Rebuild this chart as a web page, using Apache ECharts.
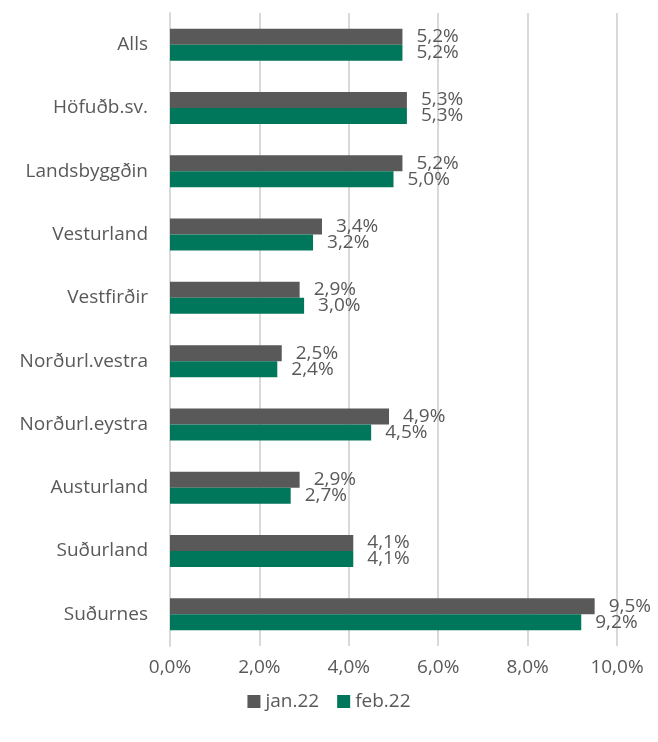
<!DOCTYPE html>
<html>
<head>
<meta charset="utf-8">
<script src="https://cdn.jsdelivr.net/npm/echarts@6/dist/echarts.min.js"></script>
<style>
  html, body { margin: 0; padding: 0; background: #fff; }
  #chart { width: 658px; height: 742px; }
</style>
</head>
<body>
<div id="chart"></div>
<script>
const regions = ['Alls', 'Höfuðb.sv.', 'Landsbyggðin', 'Vesturland', 'Vestfirðir',
  'Norðurl.vestra', 'Norðurl.eystra', 'Austurland', 'Suðurland', 'Suðurnes']
const jan22 = [5.2, 5.3, 5.2, 3.4, 2.9, 2.5, 4.9, 2.9, 4.1, 9.5]
const feb22 = [5.2, 5.3, 5.0, 3.2, 3.0, 2.4, 4.5, 2.7, 4.1, 9.2]
const seriesNames = ['jan.22', 'feb.22']

const font = 'Open Sans'
const grey = '#595959'
const pct = v => v.toFixed(1).replace('.', ',') + '%'

const chart = echarts.init(document.getElementById('chart'))

const makeSeries = (name, data, color) => ({
  name: name,
  type: 'bar',
  data: data,
  barWidth: 16,
  barGap: '0%',
  itemStyle: { color: color },
  label: {
    show: true,
    position: 'right',
    distance: 14,
    color: grey,
    fontFamily: font,
    fontSize: 19,
    formatter: p => pct(p.value)
  }
})

chart.setOption({
  animation: false,
  textStyle: { fontFamily: font },
  grid: { left: 170, right: 41, top: 13, bottom: 96 },
  legend: {
    bottom: 26,
    left: 'center',
    icon: 'rect',
    itemWidth: 13,
    itemHeight: 13,
    itemGap: 18,
    textStyle: { color: grey, fontFamily: font, fontSize: 19 },
    data: seriesNames
  },
  xAxis: {
    type: 'value',
    min: 0,
    max: 10,
    interval: 2,
    axisLine: { show: false },
    axisTick: { show: false },
    splitLine: { lineStyle: { color: '#d9d9d9', width: 2 } },
    axisLabel: {
      color: grey,
      fontFamily: font,
      fontSize: 19,
      margin: 12,
      formatter: v => pct(v)
    }
  },
  yAxis: {
    type: 'category',
    inverse: true,
    data: regions,
    axisLine: { show: true, lineStyle: { color: '#d9d9d9', width: 2 } },
    axisTick: { show: false },
    axisLabel: { color: grey, fontFamily: font, fontSize: 19, margin: 22 }
  },
  series: [
    makeSeries(seriesNames[0], jan22, '#595959'),
    makeSeries(seriesNames[1], feb22, '#00765a')
  ]
})
</script>
</body>
</html>
